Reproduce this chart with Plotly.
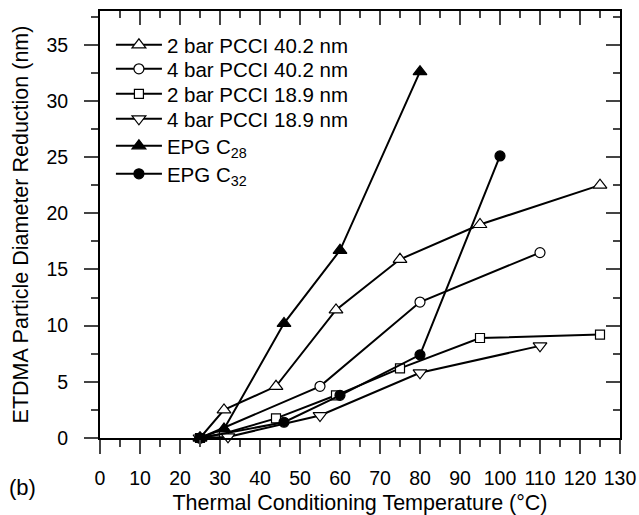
import plotly.graph_objects as go

# Data
t_2bar_402 = [25, 31, 44, 59, 75, 95, 125]
d_2bar_402 = [0, 2.5, 4.6, 11.4, 15.9, 19.0, 22.5]

t_4bar_402 = [25, 55, 80, 110]
d_4bar_402 = [0, 4.6, 12.1, 16.5]

t_2bar_189 = [25, 31, 44, 59, 75, 95, 125]
d_2bar_189 = [0, 0.4, 1.75, 3.8, 6.2, 8.9, 9.2]

t_4bar_189 = [25, 32, 55, 80, 110]
d_4bar_189 = [0, 0.1, 2.0, 5.8, 8.2]

t_c28 = [25, 31, 46, 60, 80]
d_c28 = [0, 0.8, 10.2, 16.7, 32.6]

t_c32 = [25, 46, 60, 80, 100]
d_c32 = [0, 1.4, 3.8, 7.4, 25.1]

names = ["2 bar PCCI 40.2 nm", "4 bar PCCI 40.2 nm", "2 bar PCCI 18.9 nm",
         "4 bar PCCI 18.9 nm", "EPG C<sub>28</sub>", "EPG C<sub>32</sub>"]

FONT = "Liberation Sans, Arial, sans-serif"

series = [
    (t_2bar_402, d_2bar_402, "triangle-up", 12, "white"),
    (t_4bar_402, d_4bar_402, "circle", 10, "white"),
    (t_2bar_189, d_2bar_189, "square", 9, "white"),
    (t_4bar_189, d_4bar_189, "triangle-down", 12, "white"),
    (t_c28, d_c28, "triangle-up", 12, "black"),
    (t_c32, d_c32, "circle", 10, "black"),
]

# legend row centres (pixels from top of page) in the reference
row_px = [45, 69, 94, 119, 146, 174]
PLOT_TOP, PLOT_BOTTOM = 11, 438

fig = go.Figure()
legend_layouts = {}
for i, ((x, y, sym, sz, fill), nm) in enumerate(zip(series, names)):
    key = "legend" if i == 0 else f"legend{i + 1}"
    fig.add_trace(go.Scatter(
        x=x, y=y, name=nm, mode="lines+markers",
        line=dict(color="black", width=2),
        marker=dict(symbol=sym, size=sz, color=fill,
                    line=dict(color="black", width=1.2)),
        cliponaxis=False, legend=key,
    ))
    legend_layouts[key] = dict(
        x=0.021, y=(PLOT_BOTTOM - row_px[i]) / (PLOT_BOTTOM - PLOT_TOP),
        xanchor="left", yanchor="middle", bgcolor="rgba(0,0,0,0)",
        font=dict(size=20.5, family=FONT, color="black"), itemwidth=46,
    )

# empty trace on mirrored axes so they are drawn
fig.add_trace(go.Scatter(x=[], y=[], xaxis="x2", yaxis="y2", showlegend=False))

fig.update_layout(
    width=639, height=515,
    margin=dict(l=100, r=19, t=11, b=77),
    paper_bgcolor="white", plot_bgcolor="white",
    font=dict(family=FONT, size=19.5, color="black"),
    showlegend=True,
    xaxis=dict(range=[0, 130], dtick=10, tick0=0, ticks="outside", ticklen=14,
               tickwidth=2, showline=True, linewidth=2, linecolor="black",
               showgrid=False, zeroline=False, automargin=False,
               minor=dict(dtick=5, ticks="outside", ticklen=7, tickwidth=2, showgrid=False),
               title=dict(text="Thermal Conditioning Temperature (°C)", font=dict(size=21.5), standoff=8),
               tickfont=dict(size=19.5), ticklabelstandoff=8),
    yaxis=dict(range=[0, 38], dtick=5, tick0=0, ticks="outside", ticklen=14,
               tickwidth=2, showline=True, linewidth=2, linecolor="black",
               showgrid=False, zeroline=False, automargin=False,
               minor=dict(dtick=2.5, ticks="outside", ticklen=7, tickwidth=2, showgrid=False),
               title=dict(text="ETDMA Particle Diameter Reduction (nm)", font=dict(size=21.5), standoff=12),
               tickfont=dict(size=19.5), ticklabelstandoff=12),
    xaxis2=dict(range=[0, 130], dtick=10, tick0=0, overlaying="x", side="top", anchor="y2",
                ticks="inside", ticklen=14, tickwidth=2, showticklabels=False,
                showline=True, linewidth=2, linecolor="black", showgrid=False, zeroline=False,
                minor=dict(dtick=5, ticks="inside", ticklen=7, tickwidth=2, showgrid=False)),
    yaxis2=dict(range=[0, 38], dtick=5, tick0=0, overlaying="y", side="right", anchor="x2",
                ticks="inside", ticklen=14, tickwidth=2, showticklabels=False,
                showline=True, linewidth=2, linecolor="black", showgrid=False, zeroline=False,
                minor=dict(dtick=2.5, ticks="inside", ticklen=7, tickwidth=2, showgrid=False)),
    annotations=[dict(text="(b)", x=(22 - 100) / 520, y=(515 - 77 - 488) / 427,
                      xref="paper", yref="paper", showarrow=False,
                      xanchor="center", yanchor="middle", font=dict(size=22))],
    **legend_layouts,
)

fig.write_html("out.html")
